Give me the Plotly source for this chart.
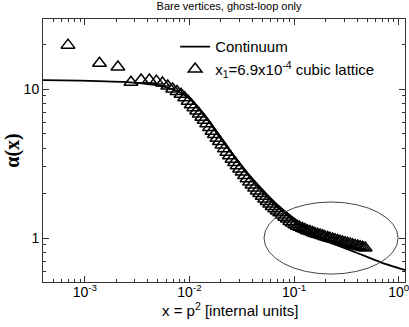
import plotly.graph_objects as go

# cubic lattice points, x1 = 6.9e-4
lat_x = [6.9e-4, 1.38e-3, 2.07e-3, 2.76e-3, 3.45e-3, 4.14e-3, 4.83e-3, 5.52e-3,
         0.0062, 0.0069, 0.0076, 0.0083, 0.009, 0.0097, 0.0104, 0.011, 0.0117, 0.0124,
         0.0131, 0.0138, 0.0146, 0.0155, 0.0164, 0.0173, 0.0183, 0.0193, 0.0204, 0.0216,
         0.0228, 0.0241, 0.0255, 0.027, 0.0285, 0.0301, 0.0318, 0.0336, 0.0355, 0.0375,
         0.0396, 0.0419, 0.0443, 0.0468, 0.0495, 0.0523, 0.0553, 0.0584, 0.0617, 0.0652,
         0.069, 0.0729, 0.077, 0.0814, 0.086, 0.091, 0.096, 0.1015, 0.107, 0.113,
         0.12, 0.127, 0.134, 0.142, 0.15, 0.158, 0.167, 0.177, 0.187, 0.197,
         0.209, 0.22, 0.233, 0.246, 0.26, 0.275, 0.29, 0.307, 0.324, 0.343,
         0.362, 0.383, 0.405, 0.428, 0.452, 0.478]
lat_alpha = [19.7, 14.9, 14.05, 11.1, 11.5, 11.5, 11.3, 10.97,
             10.47, 10.0, 9.62, 9.23, 8.74, 8.29, 7.85, 7.50, 7.12, 6.80,
             6.47, 6.17, 5.85, 5.51, 5.21, 4.95, 4.68, 4.44, 4.21, 3.98,
             3.77, 3.57, 3.38, 3.21, 3.06, 2.91, 2.77, 2.63, 2.50, 2.38,
             2.27, 2.17, 2.07, 1.99, 1.91, 1.83, 1.76, 1.69, 1.63, 1.57,
             1.52, 1.48, 1.43, 1.38, 1.34, 1.29, 1.26, 1.23, 1.20, 1.18,
             1.16, 1.14, 1.12, 1.105, 1.089, 1.074, 1.059, 1.047, 1.035, 1.022,
             1.009, 0.997, 0.986, 0.976, 0.964, 0.952, 0.942, 0.931, 0.923, 0.911,
             0.903, 0.893, 0.884, 0.876, 0.866, 0.857]

# continuum curve
cont_x = [3.5e-4, 9.0e-4, 2.7e-3, 5.24e-3, 7.6e-3, 0.0101, 0.0126, 0.0157, 0.0196,
          0.0244, 0.0304, 0.0473, 0.0735, 0.142, 0.221, 0.391, 0.664, 1.15]
cont_alpha = [11.5, 11.4, 11.1, 10.5, 9.7, 8.57, 7.23, 5.91, 4.69,
              3.84, 3.14, 2.20, 1.61, 1.12, 0.933, 0.80, 0.69, 0.61]

x_tickvals = [1e-3, 1e-2, 1e-1, 1]
x_ticktext = ["10<sup>-3</sup>", "10<sup>-2</sup>", "10<sup>-1</sup>", "10<sup>0</sup>"]
y_tickvals = [1, 10]
y_ticktext = ["1", "10"]

x_minor = [m * 10.0 ** e for e in range(-4, 1) for m in range(2, 10)]
y_minor = [m * 10.0 ** e for e in range(-1, 2) for m in range(2, 10)]

fig = go.Figure()

fig.add_trace(go.Scatter(
    x=lat_x, y=lat_alpha, mode='markers',
    name='x<sub>1</sub>=6.9x10<sup>-4</sup> cubic lattice',
    marker=dict(symbol='triangle-up-open', size=12, color='black',
                line=dict(width=1.5, color='black'))
))

fig.add_trace(go.Scatter(
    x=cont_x, y=cont_alpha, mode='lines', name='Continuum',
    line=dict(color='black', width=1.8, shape='spline', smoothing=0.6)
))

axis_common = dict(
    type='log', showgrid=False, zeroline=False, automargin=False,
    showline=True, linecolor='#333', linewidth=1, mirror='ticks',
    ticks='inside', ticklen=6, tickcolor='#333', ticklabeloverflow='allow',
    tickfont=dict(size=14, color='black'),
)

fig.update_xaxes(
    **axis_common, range=[-3.40, 0.06],
    tickmode='array', tickvals=x_tickvals, ticktext=x_ticktext,
    ticklabelstandoff=-3,
    minor=dict(tickmode='array', tickvals=x_minor, ticks='inside', ticklen=3,
               tickcolor='#333', showgrid=False),
)
fig.update_yaxes(
    **axis_common, range=[-0.295, 1.47],
    tickmode='array', tickvals=y_tickvals, ticktext=y_ticktext,
    minor=dict(tickmode='array', tickvals=y_minor, ticks='inside', ticklen=3,
               tickcolor='#333', showgrid=False),
)

# axis titles
fig.add_annotation(text='x = p<sup>2</sup> [internal units]', xref='paper', yref='paper',
                   x=0.517, y=-0.105, xanchor='center', yanchor='middle',
                   showarrow=False, font=dict(size=15, color='black'))
fig.add_annotation(text='<b>α(x)</b>', xref='paper', yref='paper',
                   x=-0.085, y=0.5, xanchor='center', yanchor='middle', textangle=-90,
                   showarrow=False, font=dict(size=20, color='black', family='Liberation Serif'))

# ellipse around the high-momentum region
fig.add_shape(type='circle', xref='x', yref='y',
              x0=0.0516, x1=0.986, y0=0.573, y1=1.745,
              line=dict(color='#444', width=1))

fig.update_layout(
    width=409, height=327,
    margin=dict(l=43, r=4, t=19, b=45),
    plot_bgcolor='white', paper_bgcolor='white',
    font=dict(family='Liberation Sans, Arial, sans-serif', color='black'),
    title=dict(text='Bare vertices, ghost-loop only', font=dict(size=11),
               x=0.56, xanchor='center', y=0.982, yanchor='middle', yref='container'),
    legend=dict(x=0.365, y=0.957, xanchor='left', yanchor='top',
                traceorder='reversed', bgcolor='rgba(0,0,0,0)',
                font=dict(size=15, color='black')),
    showlegend=True,
)

# drop the default page margin so the figure sits at the window's corner
fig.write_html("out.html", config={'displayModeBar': False},
               post_script="document.body.style.margin='0';")
